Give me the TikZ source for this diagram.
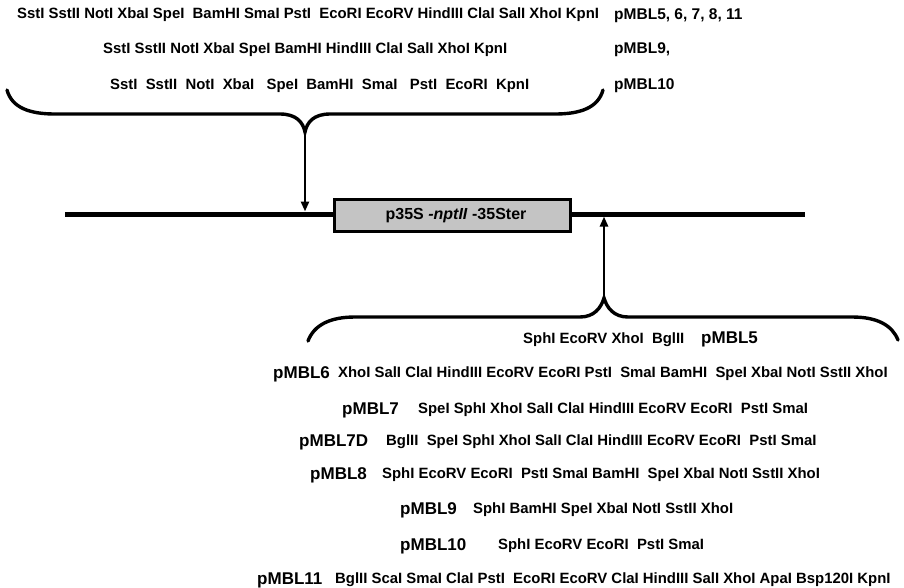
\documentclass[tikz,border=0pt]{standalone}
\usepackage{fontspec}
\setmainfont{Liberation Sans}
\usepackage{xcolor}
\usepackage{tikz}
\usetikzlibrary{arrows.meta,positioning}
\definecolor{BoxGray}{RGB}{196,196,196}

\tikzset{
  enzyme/.style={anchor=base west, inner sep=0pt, font=\bfseries\fontsize{14.9}{16}\selectfont},
  plasmid/.style={anchor=base west, inner sep=0pt, font=\bfseries\fontsize{17}{19}\selectfont},
  toplabel/.style={anchor=base west, inner sep=0pt, font=\bfseries\fontsize{15.5}{17}\selectfont},
  brace/.style={line width=3.4pt, line cap=round},
  insert/.style={line width=2.6pt, -{Triangle[length=10pt,width=8pt]}}
}

\begin{document}
\begin{tikzpicture}[x=1pt,y=-1pt]
      \useasboundingbox (0,0) rectangle (904,587);

      % sites cloned on the left of the cassette
      \node[enzyme] (top1) at (17,18.5) {SstI SstII NotI XbaI SpeI \ BamHI SmaI PstI \ EcoRI EcoRV HindIII ClaI SalI XhoI KpnI};
      \node[enzyme] (top2) at (103,53) {SstI SstII NotI XbaI SpeI BamHI HindIII ClaI SalI XhoI KpnI};
      \node[enzyme] (top3) at (110,89.5) {SstI \ SstII \ NotI \ XbaI \ \ SpeI \ BamHI \ SmaI \ \ PstI \ EcoRI \ KpnI};
      \node[toplabel] (tl1) at (614,19) {pMBL5, 6, 7, 8, 11};
      \node[toplabel] (tl2) at (614,53.5) {pMBL9,};
      \node[toplabel] (tl3) at (614,89) {pMBL10};

      \draw[brace] (7,90) .. controls (12,108) and (30,114) .. (55,114) -- (280,114)
        .. controls (296,114) and (303,122) .. (305,132)
        .. controls (307,122) and (314,114) .. (330,114) -- (555,114)
        .. controls (580,114) and (598,108) .. (603,90);
      \coordinate (cuspL) at (305,132);

      % T-DNA with the selection cassette
      \coordinate (lineL) at (65,214);
      \coordinate (lineR) at (805,214);
      \draw[line width=5pt] (lineL) -- (lineR);
      \node[draw, line width=3pt, fill=BoxGray, minimum width=236pt, minimum height=32pt,
        inner sep=0pt, font=\bfseries\fontsize{16}{18}\selectfont] (cassette) at (452,215.5)
        {\hspace{8pt}p35S \textit{-nptII} -35Ster};
      \coordinate (siteL) at (305,211.5);
      \coordinate (siteR) at (604,216.5);
      \draw[insert] (cuspL) -- (siteL);

      % sites cloned on the right of the cassette
      \coordinate (cuspR) at (604,298);
      \draw[brace] (308,341) .. controls (314,325) and (330,317) .. (355,317) -- (580,317)
        .. controls (594,317) and (601,308) .. (604,298)
        .. controls (607,308) and (614,317) .. (628,317) -- (852,317)
        .. controls (877,317) and (892,325) .. (898,340);
      \draw[insert] (cuspR) -- (siteR);

      \node[enzyme] (e5) at (523,343) {SphI EcoRV XhoI \ BglII};
      \node[plasmid] (p5) at (701,343.5) {pMBL5};
      \node[plasmid] (p6) at (273,378) {pMBL6};
      \node[enzyme] (e6) at (338,377) {XhoI SalI ClaI HindIII EcoRV EcoRI PstI \ SmaI BamHI \ SpeI XbaI NotI SstII XhoI};
      \node[plasmid] (p7) at (342,414) {pMBL7};
      \node[enzyme] (e7) at (418,413) {SpeI SphI XhoI SalI ClaI HindIII EcoRV EcoRI \ PstI SmaI};
      \node[plasmid] (p7d) at (299,446) {pMBL7D};
      \node[enzyme] (e7d) at (386,445) {BglII \ SpeI SphI XhoI SalI ClaI HindIII EcoRV EcoRI \ PstI SmaI};
      \node[plasmid] (p8) at (310,479) {pMBL8};
      \node[enzyme] (e8) at (382,478) {SphI EcoRV EcoRI \ PstI SmaI BamHI \ SpeI XbaI NotI SstII XhoI};
      \node[plasmid] (p9) at (400,514) {pMBL9};
      \node[enzyme] (e9) at (473,513) {SphI BamHI SpeI XbaI NotI SstII XhoI};
      \node[plasmid] (p10) at (400,550) {pMBL10};
      \node[enzyme] (e10) at (498,549) {SphI EcoRV EcoRI \ PstI SmaI};
      \node[plasmid] (p11) at (257,584) {pMBL11};
      \node[enzyme] (e11) at (335,583) {BglII ScaI SmaI ClaI PstI \ EcoRI EcoRV ClaI HindIII SalI XhoI ApaI Bsp120I KpnI};
    \end{tikzpicture}
\end{document}
